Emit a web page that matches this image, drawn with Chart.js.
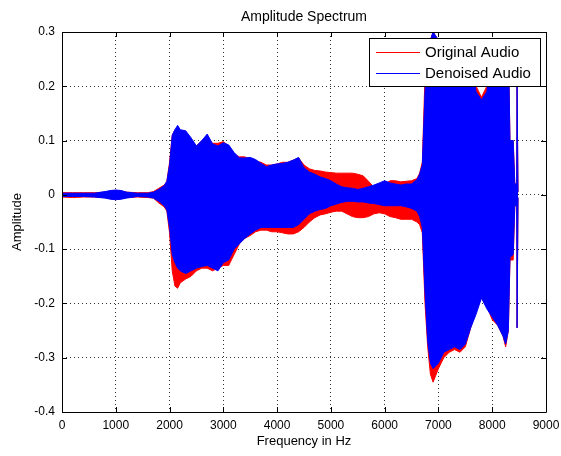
<!DOCTYPE html>
<html>
<head>
<meta charset="utf-8">
<script src="https://cdn.jsdelivr.net/npm/chart.js@4.4.0/dist/chart.umd.min.js"></script>
<style>
  html, body { margin: 0; padding: 0; background: #fff; }
  canvas { display: block; }
</style>
</head>
<body>
<canvas id="spectrum" width="561" height="456"></canvas>
<script>
// envelope of the two signals (Hz -> amplitude)
const freqs = [0, 200, 400, 600, 800, 900, 1000, 1100, 1200, 1400, 1600, 1700, 1800, 1900, 1950,
  2000, 2050, 2100, 2150, 2200, 2300, 2400, 2500, 2600, 2700, 2800, 2900, 3000, 3100, 3200, 3300,
  3400, 3500, 3600, 3700, 3800, 3900, 4000, 4100, 4200, 4300, 4400, 4500, 4600, 4700, 4800, 4900,
  5000, 5100, 5200, 5300, 5400, 5500, 5600, 5700, 5800, 5900, 6000, 6100, 6200, 6300, 6400, 6500,
  6600, 6650, 6700, 6750, 6800, 6850, 6900, 7000, 7100, 7200, 7300, 7400, 7500, 7600, 7700, 7800,
  7900, 8000, 8100, 8200, 8250, 8300, 8330, 8390, 8420, 8455, 8462, 8472, 8480];

const originalUpper = [0.004, 0.004, 0.004, 0.004, 0.005, 0.007, 0.008, 0.007, 0.005, 0.004, 0.004, 0.006, 0.012, 0.018, 0.025,
  0.06, 0.11, 0.12, 0.115, 0.11, 0.115, 0.1, 0.09, 0.1, 0.105, 0.095, 0.095, 0.098, 0.09, 0.075, 0.07,
  0.07, 0.065, 0.062, 0.06, 0.055, 0.055, 0.057, 0.06, 0.06, 0.064, 0.068, 0.055, 0.048, 0.045, 0.044, 0.042,
  0.041, 0.04, 0.04, 0.04, 0.04, 0.038, 0.035, 0.025, 0.014, 0.015, 0.02, 0.026, 0.026, 0.024, 0.025, 0.026,
  0.03, 0.04, 0.06, 0.22, 0.28, 0.285, 0.3, 0.285, 0.285, 0.285, 0.285, 0.285, 0.28, 0.25, 0.2, 0.18,
  0.2, 0.28, 0.285, 0.285, 0.285, 0.28, 0.1, 0.1, 0.02, 0.02, 0.2, 0.2, 0.005];

const originalLower = [-0.004, -0.005, -0.004, -0.004, -0.005, -0.007, -0.008, -0.007, -0.005, -0.004, -0.005, -0.006, -0.015, -0.022, -0.03,
  -0.07, -0.14, -0.168, -0.172, -0.162, -0.155, -0.15, -0.14, -0.135, -0.135, -0.14, -0.135, -0.13, -0.13, -0.11, -0.09,
  -0.08, -0.075, -0.068, -0.065, -0.065, -0.068, -0.068, -0.07, -0.072, -0.072, -0.068, -0.06, -0.05, -0.042, -0.037, -0.035,
  -0.032, -0.03, -0.03, -0.035, -0.04, -0.042, -0.042, -0.04, -0.035, -0.033, -0.035, -0.04, -0.042, -0.045, -0.045, -0.045,
  -0.05, -0.055, -0.07, -0.2, -0.28, -0.33, -0.345, -0.32, -0.3, -0.29, -0.285, -0.29, -0.28, -0.245, -0.21, -0.19,
  -0.205, -0.23, -0.24, -0.26, -0.28, -0.25, -0.12, -0.12, -0.02, -0.02, -0.245, -0.245, -0.005];

const denoisedUpper = [0.003, 0.003, 0.003, 0.003, 0.006, 0.008, 0.009, 0.008, 0.005, 0.003, 0.003, 0.005, 0.01, 0.017, 0.025,
  0.055, 0.11, 0.12, 0.128, 0.12, 0.118, 0.105, 0.09, 0.1, 0.112, 0.094, 0.09, 0.096, 0.092, 0.078, 0.068,
  0.068, 0.069, 0.065, 0.058, 0.052, 0.055, 0.057, 0.058, 0.06, 0.064, 0.069, 0.05, 0.042, 0.038, 0.033, 0.03,
  0.026, 0.02, 0.015, 0.013, 0.012, 0.01, 0.012, 0.015, 0.018, 0.022, 0.026, 0.022, 0.02, 0.018, 0.02, 0.02,
  0.028, 0.038, 0.055, 0.19, 0.275, 0.285, 0.3, 0.285, 0.285, 0.285, 0.285, 0.285, 0.28, 0.25, 0.19, 0.175,
  0.19, 0.28, 0.285, 0.285, 0.285, 0.28, 0.1, 0.1, 0.02, 0.02, 0.2, 0.2, 0.005];

const denoisedLower = [-0.003, -0.003, -0.003, -0.004, -0.006, -0.008, -0.009, -0.008, -0.006, -0.003, -0.004, -0.006, -0.012, -0.02, -0.028,
  -0.06, -0.11, -0.125, -0.135, -0.14, -0.145, -0.14, -0.135, -0.132, -0.13, -0.135, -0.14, -0.125, -0.12, -0.1, -0.09,
  -0.08, -0.072, -0.065, -0.06, -0.06, -0.06, -0.06, -0.06, -0.06, -0.06, -0.055, -0.045, -0.035, -0.03, -0.027, -0.025,
  -0.02, -0.017, -0.014, -0.012, -0.012, -0.013, -0.013, -0.015, -0.016, -0.018, -0.02, -0.02, -0.02, -0.02, -0.022, -0.025,
  -0.03, -0.04, -0.06, -0.18, -0.27, -0.31, -0.32, -0.31, -0.29, -0.285, -0.28, -0.285, -0.275, -0.245, -0.22, -0.19,
  -0.21, -0.225, -0.24, -0.26, -0.275, -0.25, -0.115, -0.11, -0.02, -0.02, -0.245, -0.245, -0.005];

const xTicks = [0, 1000, 2000, 3000, 4000, 5000, 6000, 7000, 8000, 9000];
const yTicks = [-0.4, -0.3, -0.2, -0.1, 0, 0.1, 0.2, 0.3];

const FONT = '"Liberation Sans", Arial, sans-serif';

function points(values) {
    return freqs.map((f, i) => ({ x: f, y: values[i] }));
}

// box round the axes with inward tick marks, like MATLAB
const matlabBox = {
    id: 'matlabBox',
    afterDatasetsDraw(chart) {
        const { ctx, chartArea: a, scales } = chart;
        ctx.save();
        ctx.strokeStyle = '#000';
        ctx.lineWidth = 1;
        ctx.beginPath();
        ctx.rect(a.left + 0.5, a.top + 0.5, a.right - a.left, a.bottom - a.top);
        xTicks.forEach(v => {
            const px = Math.round(scales.x.getPixelForValue(v)) + 0.5;
            ctx.moveTo(px, a.bottom);
            ctx.lineTo(px, a.bottom - 5);
            ctx.moveTo(px, a.top);
            ctx.lineTo(px, a.top + 5);
        });
        yTicks.forEach(v => {
            const py = Math.round(scales.y.getPixelForValue(v)) + 0.5;
            ctx.moveTo(a.left, py);
            ctx.lineTo(a.left + 5, py);
            ctx.moveTo(a.right, py);
            ctx.lineTo(a.right - 5, py);
        });
        ctx.stroke();
        ctx.restore();
    }
};

// legend box inside the top right corner of the axes
const boxLegend = {
    id: 'boxLegend',
    afterDraw(chart) {
        const { ctx, chartArea: a } = chart;
        const items = chart.data.datasets.filter(d => d.label);
        ctx.save();
        ctx.font = '15px ' + FONT;
        const textW = Math.max(...items.map(d => ctx.measureText(d.label).width));
        const boxW = Math.round(7 + 44 + 5 + textW + 9);
        const boxH = 48;
        const right = a.right - 6;
        const top = a.top + 6;
        const left = right - boxW;
        ctx.fillStyle = '#fff';
        ctx.fillRect(left, top, boxW, boxH);
        ctx.strokeStyle = '#000';
        ctx.lineWidth = 1;
        ctx.strokeRect(left + 0.5, top + 0.5, boxW, boxH);
        items.forEach((d, i) => {
            const y = top + 14 + i * 21;
            ctx.strokeStyle = d.borderColor;
            ctx.beginPath();
            ctx.moveTo(left + 7, y + 0.5);
            ctx.lineTo(left + 51, y + 0.5);
            ctx.stroke();
            ctx.fillStyle = '#000';
            ctx.textBaseline = 'middle';
            ctx.textAlign = 'left';
            ctx.fillText(d.label, left + 56, y + 1);
        });
        ctx.restore();
    }
};

new Chart(document.getElementById('spectrum'), {
    type: 'line',
    data: {
        datasets: [
            { label: 'Original Audio', data: points(originalUpper), borderColor: '#ff0000', backgroundColor: '#ff0000', fill: '+1', order: 2 },
            { data: points(originalLower), borderColor: '#ff0000', backgroundColor: '#ff0000', fill: false, order: 2 },
            { label: 'Denoised Audio', data: points(denoisedUpper), borderColor: '#0000ff', backgroundColor: '#0000ff', fill: '+1', order: 1 },
            { data: points(denoisedLower), borderColor: '#0000ff', backgroundColor: '#0000ff', fill: false, order: 1 }
        ]
    },
    options: {
        responsive: false,
        animation: false,
        layout: { padding: { left: 0, right: 15, top: 0, bottom: 0 } },
        elements: {
            point: { radius: 0 },
            line: { borderWidth: 1, tension: 0 }
        },
        plugins: {
            legend: { display: false },
            tooltip: { enabled: false },
            title: {
                display: true,
                fullSize: false,
                text: 'Amplitude Spectrum',
                color: '#000',
                font: { family: FONT, size: 14, weight: 'normal', lineHeight: '16px' },
                padding: { top: 9, bottom: 7 }
            }
        },
        scales: {
            x: {
                type: 'linear',
                min: 0,
                max: 9000,
                afterBuildTicks: s => { s.ticks = xTicks.map(v => ({ value: v })); },
                afterFit: s => {
                    s.height = 44;
                    s.paddingLeft = 0;
                    s.paddingRight = 0;
                },
                ticks: {
                    color: '#000',
                    font: { family: FONT, size: 12 },
                    padding: 6,
                    maxRotation: 0,
                    autoSkip: false,
                    callback: v => String(v)
                },
                grid: { color: '#333', lineWidth: 1, drawTicks: false },
                border: { display: false, dash: [1, 3] },
                title: {
                    display: true,
                    text: 'Frequency in Hz',
                    color: '#000',
                    font: { family: FONT, size: 13, lineHeight: '16px' },
                    padding: { top: 0, bottom: 7 }
                }
            },
            y: {
                min: -0.4,
                max: 0.3,
                afterBuildTicks: s => { s.ticks = yTicks.map(v => ({ value: v })); },
                afterFit: s => { s.width = 62; },
                ticks: {
                    color: '#000',
                    font: { family: FONT, size: 12 },
                    padding: 7,
                    callback: v => String(Number(v.toFixed(1)))
                },
                grid: { color: '#333', lineWidth: 1, drawTicks: false },
                border: { display: false, dash: [1, 3] },
                title: {
                    display: true,
                    text: 'Amplitude',
                    color: '#000',
                    font: { family: FONT, size: 13, lineHeight: '16px' },
                    padding: { top: 9, bottom: 0 }
                }
            }
        }
    },
    plugins: [matlabBox, boxLegend]
});
</script>
</body>
</html>
